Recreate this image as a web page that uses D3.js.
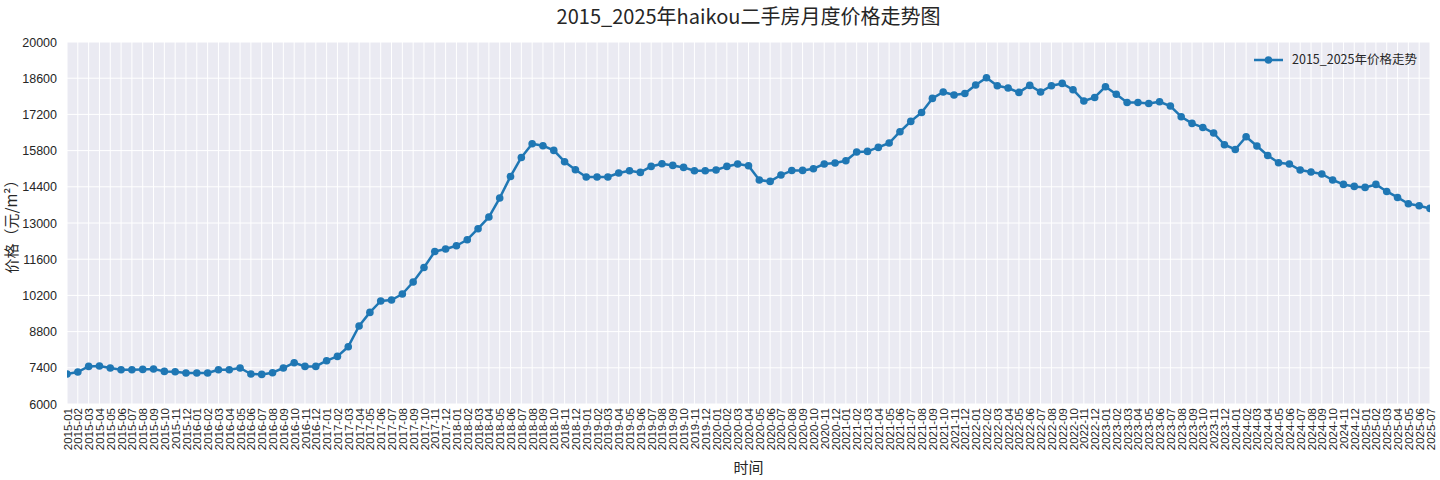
<!DOCTYPE html>
<html>
<head>
<meta charset="utf-8">
<script src="https://cdn.jsdelivr.net/npm/d3@7"></script>
<style>
  html, body { margin: 0; padding: 0; background: #ffffff; }
  svg { display: block; }
</style>
</head>
<body>
<svg id="chart" width="1440" height="480"></svg>
<script>
// ---- data ----
const title = "2015_2025年haikou二手房月度价格走势图";
const seriesName = "2015_2025年价格走势";
const yLabel = "价格（元/m²）";
const xLabel = "时间";

const months = [];
for (let y = 2015; y <= 2025; y++) {
  for (let m = 1; m <= 12; m++) {
    if (y === 2025 && m > 7) break;
    months.push(y + "-" + String(m).padStart(2, "0"));
  }
}

const prices = [
  7160, 7237, 7454, 7469, 7392, 7326, 7326, 7338, 7353, 7261, 7249, 7199,
  7199, 7199, 7326, 7326, 7392, 7160, 7145, 7210, 7392, 7597, 7454, 7454,
  7675, 7841, 8216, 9016, 9543, 9983, 10022, 10254, 10718, 11280, 11895, 11993,
  12121, 12353, 12779, 13231, 13966, 14801, 15536, 16066, 15989, 15807, 15370, 15060,
  14778, 14778, 14778, 14933, 15022, 14956, 15188, 15292, 15227, 15150, 15022, 15022,
  15048, 15188, 15281, 15215, 14662, 14608, 14855, 15028, 15034, 15099, 15281, 15319,
  15408, 15745, 15769, 15923, 16093, 16530, 16929, 17276, 17818, 18065, 17949, 18011,
  18336, 18618, 18309, 18220, 18050, 18321, 18065, 18309, 18398, 18154, 17717, 17856,
  18270, 17980, 17663, 17663, 17624, 17690, 17523, 17110, 16851, 16696, 16480, 16027,
  15845, 16337, 15977, 15613, 15331, 15281, 15048, 14971, 14894, 14662, 14492, 14415,
  14376, 14492, 14221, 13989, 13746, 13668, 13564
];

const yTicks = [6000, 7400, 8800, 10200, 11600, 13000, 14400, 15800, 17200, 18600, 20000];

// ---- layout ----
const W = 1440, H = 480;
const M = { left: 67, right: 1430, top: 42, bottom: 404 };
const lineColor = "#1f77b4";
const textColor = "#262626";
const cjk = "'Noto Sans CJK SC', 'Liberation Sans', sans-serif";
const latin = "'Liberation Sans', 'DejaVu Sans', sans-serif";

const svg = d3.select("#chart");

const x = d3.scalePoint().domain(months).range([M.left, M.right]).padding(0);
const y = d3.scaleLinear().domain([6000, 20000]).range([M.bottom, M.top]);

// background
svg.append("rect")
  .attr("x", M.left).attr("y", M.top)
  .attr("width", M.right - M.left).attr("height", M.bottom - M.top)
  .attr("fill", "#eaeaf2");

// grid
const grid = svg.append("g");
grid.selectAll("line.v").data(months).join("line")
  .attr("x1", d => x(d)).attr("x2", d => x(d))
  .attr("y1", M.top).attr("y2", M.bottom)
  .attr("stroke", "#ffffff").attr("stroke-width", 1);
grid.selectAll("line.h").data(yTicks).join("line")
  .attr("x1", M.left).attr("x2", M.right)
  .attr("y1", d => y(d)).attr("y2", d => y(d))
  .attr("stroke", "#ffffff").attr("stroke-width", 1);

// axes
const yAxis = svg.append("g")
  .attr("transform", `translate(${M.left},0)`)
  .call(d3.axisLeft(y).tickValues(yTicks).tickSize(0).tickPadding(10).tickFormat(d3.format("d")));
yAxis.select(".domain").remove();
yAxis.selectAll("text")
  .attr("font-family", latin).attr("font-size", 12.5).attr("fill", textColor);

const xAxis = svg.append("g")
  .attr("transform", `translate(0,${M.bottom})`)
  .call(d3.axisBottom(x).tickSize(0).tickPadding(0));
xAxis.select(".domain").remove();
xAxis.selectAll("text")
  .attr("font-family", latin).attr("font-size", 11.5).attr("fill", textColor)
  .attr("transform", "rotate(-90)")
  .attr("text-anchor", "end")
  .attr("x", -4).attr("y", 0).attr("dy", "0.35em");

// clip
svg.append("clipPath").attr("id", "plotclip")
  .append("rect")
  .attr("x", M.left).attr("y", M.top)
  .attr("width", M.right - M.left).attr("height", M.bottom - M.top);

const plot = svg.append("g").attr("clip-path", "url(#plotclip)");
const line = d3.line().x((d, i) => x(months[i])).y(d => y(d));
plot.append("path").datum(prices)
  .attr("d", line)
  .attr("fill", "none").attr("stroke", lineColor).attr("stroke-width", 2.5)
  .attr("stroke-linejoin", "round");
plot.selectAll("circle").data(prices).join("circle")
  .attr("cx", (d, i) => x(months[i])).attr("cy", d => y(d))
  .attr("r", 3.8).attr("fill", lineColor);

// title
svg.append("text")
  .attr("x", (M.left + M.right) / 2).attr("y", 24)
  .attr("text-anchor", "middle")
  .attr("font-family", cjk).attr("font-size", 20).attr("fill", textColor)
  .text(title);

// axis labels
svg.append("text")
  .attr("x", (M.left + M.right) / 2).attr("y", 473)
  .attr("text-anchor", "middle")
  .attr("font-family", cjk).attr("font-size", 15).attr("fill", textColor)
  .text(xLabel);
svg.append("text")
  .attr("transform", `translate(17,${(M.top + M.bottom) / 2}) rotate(-90)`)
  .attr("text-anchor", "middle")
  .attr("font-family", cjk).attr("font-size", 15).attr("fill", textColor)
  .text(yLabel);

// legend
const lg = svg.append("g").attr("transform", "translate(1254,60)");
lg.append("line").attr("x1", 0).attr("x2", 29).attr("y1", 0).attr("y2", 0)
  .attr("stroke", lineColor).attr("stroke-width", 2.5);
lg.append("circle").attr("cx", 14.5).attr("cy", 0).attr("r", 3.8).attr("fill", lineColor);
lg.append("text").attr("x", 38).attr("y", 0).attr("dy", "0.35em")
  .attr("font-family", cjk).attr("font-size", 12.5).attr("fill", textColor)
  .text(seriesName);
</script>
</body>
</html>
